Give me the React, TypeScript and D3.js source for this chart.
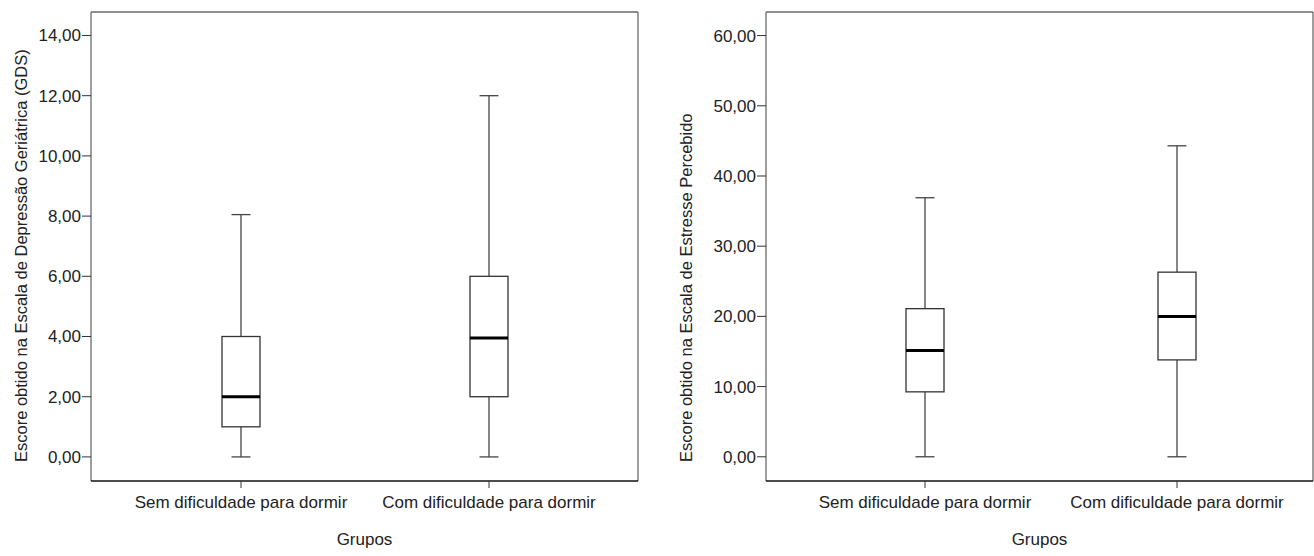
import React from "react";
import * as d3 from "d3";

const categories = ["Sem dificuldade para dormir", "Com dificuldade para dormir"];

// Escala de Depressão Geriátrica (GDS)
const gdsMin = [0, 0];
const gdsQ1 = [1, 2];
const gdsMedian = [2, 3.95];
const gdsQ3 = [4, 6];
const gdsMax = [8.05, 12];
const gdsTicks = [0, 2, 4, 6, 8, 10, 12, 14];

// Escala de Estresse Percebido
const pssMin = [0, 0];
const pssQ1 = [9.25, 13.8];
const pssMedian = [15.15, 20];
const pssQ3 = [21.1, 26.3];
const pssMax = [36.9, 44.3];
const pssTicks = [0, 10, 20, 30, 40, 50, 60];

const FONT = "'Liberation Sans', Arial, sans-serif";
const fmt = (v: number) => v.toFixed(2).replace(".", ",");

type PanelProps = {
  left: number;
  right: number;
  top: number;
  bottom: number;
  yDomain: [number, number];
  xRange: [number, number];
  ticks: number[];
  mins: number[];
  q1s: number[];
  meds: number[];
  q3s: number[];
  maxs: number[];
  yTitle: string;
  titleX: number;
};

function Panel(p: PanelProps) {
  const y = d3.scaleLinear().domain(p.yDomain).range([p.bottom, p.top]);
  const x = d3.scalePoint<string>().domain(categories).range(p.xRange);
  const boxW = 38;
  const capW = 19;
  const cx = (p.left + p.right) / 2;
  return (
    <g>
      {/* frame */}
      <line x1={p.left} x2={p.right} y1={p.top} y2={p.top} stroke="#6a6a6a" strokeWidth={1.3} />
      <line x1={p.right} x2={p.right} y1={p.top} y2={p.bottom} stroke="#6a6a6a" strokeWidth={1.3} />
      <line x1={p.left} x2={p.left} y1={p.top} y2={p.bottom} stroke="#6a6a6a" strokeWidth={1.3} />
      <line x1={p.left} x2={p.right} y1={p.bottom} y2={p.bottom} stroke="#111" strokeWidth={1.3} />
      {/* y ticks */}
      {p.ticks.map((t) => (
        <g key={t}>
          <line x1={p.left - 9} x2={p.left} y1={y(t)} y2={y(t)} stroke="#333" strokeWidth={1} />
          <text
            x={p.left - 10}
            y={y(t)}
            dy="0.35em"
            textAnchor="end"
            fontSize={17}
            fontFamily={FONT}
            fill="#222"
          >
            {fmt(t)}
          </text>
        </g>
      ))}
      {/* x ticks & labels */}
      {categories.map((c) => (
        <g key={c}>
          <line x1={x(c)} x2={x(c)} y1={p.bottom} y2={p.bottom + 7} stroke="#333" strokeWidth={1} />
          <text x={x(c)} y={p.bottom + 27} textAnchor="middle" fontSize={17} fontFamily={FONT} fill="#222">
            {c}
          </text>
        </g>
      ))}
      <text x={cx} y={545} textAnchor="middle" fontSize={17} fontFamily={FONT} fill="#222">
        Grupos
      </text>
      <text
        transform={`translate(${p.titleX},462) rotate(-90)`}
        textAnchor="start"
        fontSize={16.5}
        fontFamily={FONT}
        fill="#222"
      >
        {p.yTitle}
      </text>
      {/* boxes */}
      {categories.map((c, i) => {
        const xc = x(c) as number;
        return (
          <g key={c}>
            <line x1={xc} x2={xc} y1={y(p.maxs[i])} y2={y(p.q3s[i])} stroke="#444" strokeWidth={1.3} />
            <line x1={xc} x2={xc} y1={y(p.q1s[i])} y2={y(p.mins[i])} stroke="#444" strokeWidth={1.3} />
            <line x1={xc - capW / 2} x2={xc + capW / 2} y1={y(p.maxs[i])} y2={y(p.maxs[i])} stroke="#444" strokeWidth={1.3} />
            <line x1={xc - capW / 2} x2={xc + capW / 2} y1={y(p.mins[i])} y2={y(p.mins[i])} stroke="#444" strokeWidth={1.3} />
            <rect
              x={xc - boxW / 2}
              y={y(p.q3s[i])}
              width={boxW}
              height={y(p.q1s[i]) - y(p.q3s[i])}
              fill="#fff"
              stroke="#333"
              strokeWidth={1.3}
            />
            <line x1={xc - boxW / 2} x2={xc + boxW / 2} y1={y(p.meds[i])} y2={y(p.meds[i])} stroke="#000" strokeWidth={3} />
          </g>
        );
      })}
    </g>
  );
}

export default function App() {
  return (
    <svg
      width={1314}
      height={556}
      style={{ position: "absolute", left: 0, top: 0, background: "#fff" }}
    >
      <rect width={1314} height={556} fill="#fff" />
      <Panel
        left={91}
        right={638}
        top={12}
        bottom={481}
        yDomain={[-0.8, 14.78]}
        xRange={[241, 489]}
        ticks={gdsTicks}
        mins={gdsMin}
        q1s={gdsQ1}
        meds={gdsMedian}
        q3s={gdsQ3}
        maxs={gdsMax}
        yTitle="Escore obtido na Escala de Depressão Geriátrica (GDS)"
        titleX={27}
      />
      <Panel
        left={766}
        right={1313}
        top={12}
        bottom={481}
        yDomain={[-3.45, 63.36]}
        xRange={[925, 1177]}
        ticks={pssTicks}
        mins={pssMin}
        q1s={pssQ1}
        meds={pssMedian}
        q3s={pssQ3}
        maxs={pssMax}
        yTitle="Escore obtido na Escala de Estresse Percebido"
        titleX={692}
      />
    </svg>
  );
}
